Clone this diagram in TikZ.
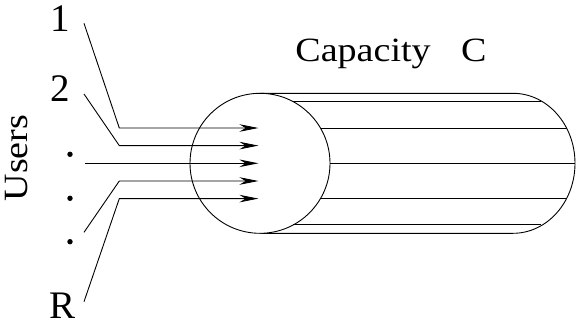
\documentclass[tikz,border=0pt]{standalone}
\usepackage{fontspec}
\setmainfont{Liberation Serif}
\usetikzlibrary{arrows.meta}
\begin{document}
\begin{tikzpicture}[x=1pt,y=-1pt,
  thin line/.style={line width=0.9pt},
  flow/.style={thin line,-{Stealth[length=19pt,width=7.5pt,inset=6pt]}},
  biglabel/.style={font=\fontsize{39}{39}\selectfont,inner sep=0pt,anchor=base},
  midlabel/.style={font=\fontsize{34}{34}\selectfont,inner sep=0pt,anchor=base,xscale=1.12},
  userdot/.style={fill=black,draw=none}]
\useasboundingbox (0,0) rectangle (576,322);
% tube
\coordinate (cc) at (260,163.3);
\draw[thin line] (260,93.3) -- (513,93.3) arc[start angle=90,end angle=-90,x radius=62pt,y radius=70pt] -- (260,233.3);
\draw[thin line,fill=white] (cc) circle[radius=70pt];
% inner lines
\draw[thin line] (293.2,101.7) -- (540.5,101.7);
\draw[thin line] (320.6,128.3) -- (566.7,128.3);
\draw[thin line] (330,163.3) -- (575,163.3);
\draw[thin line] (320.6,198.3) -- (566.7,198.3);
\draw[thin line] (293.2,224.9) -- (540.5,224.9);
% arrows
\coordinate (s1) at (84,23.3);  \coordinate (b1) at (119.3,128);  \coordinate (t1) at (258.5,128);
\coordinate (s2) at (84,94);    \coordinate (b2) at (119.3,145.6); \coordinate (t2) at (258.5,145.6);
\coordinate (s3) at (85,163.3); \coordinate (t3) at (258.5,163.3);
\coordinate (s4) at (84,232.3); \coordinate (b4) at (119.3,181);  \coordinate (t4) at (258.5,181);
\coordinate (s5) at (84,301.7); \coordinate (b5) at (119.3,198.6); \coordinate (t5) at (258.5,198.6);
\draw[flow] (s1) -- (b1) -- (t1);
\draw[flow] (s2) -- (b2) -- (t2);
\draw[flow] (s3) -- (t3);
\draw[flow] (s4) -- (b4) -- (t4);
\draw[flow] (s5) -- (b5) -- (t5);
% labels
\node[biglabel] (l1) at (60,31.7) {1};
\node[biglabel] (l2) at (60,101.7) {2};
\node[biglabel] (lR) at (63,318) {R};
\fill[userdot] (70,154.3) circle[radius=2.7pt];
\fill[userdot] (70,198.3) circle[radius=2.7pt];
\fill[userdot] (70,241.7) circle[radius=2.7pt];
\node[rotate=90,midlabel] (users) at (27.5,158) {Users};
\node[midlabel] (cap) at (391,61) {Capacity\hspace{0.8em}C};
\end{tikzpicture}
\end{document}
